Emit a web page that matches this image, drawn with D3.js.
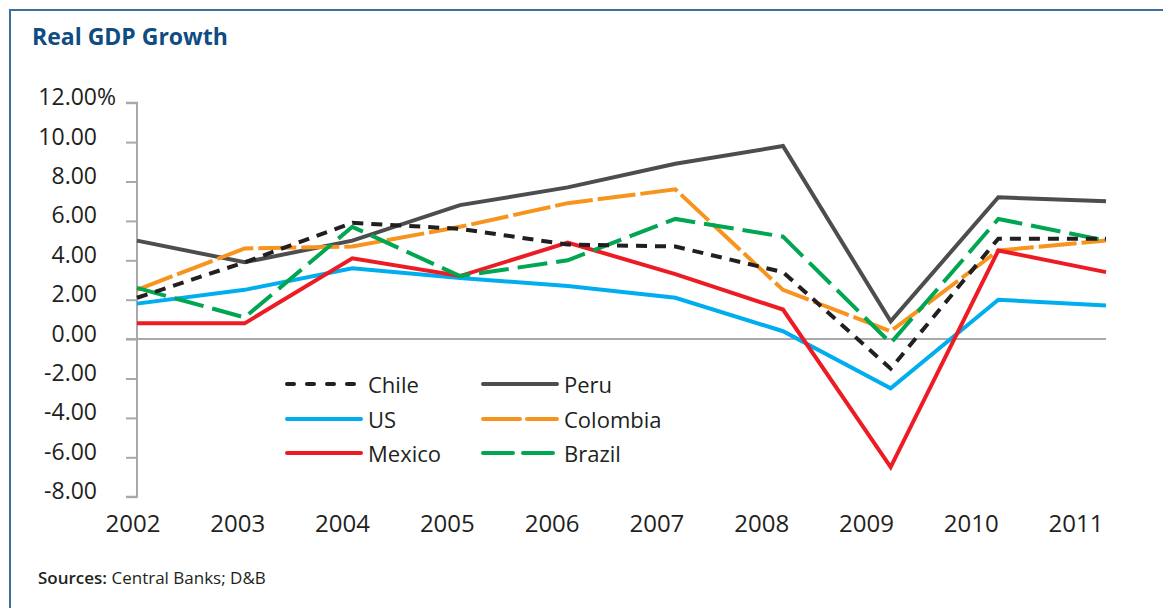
<!DOCTYPE html>
<html>
<head>
<meta charset="utf-8">
<script src="https://cdn.jsdelivr.net/npm/d3@7/dist/d3.min.js"></script>
<style>
  html, body { margin: 0; padding: 0; background: #fff; }
  svg { display: block; }
  text { font-family: "Open Sans", "Noto Sans", sans-serif; fill: #231f20; }
</style>
</head>
<body>
<svg id="chart" width="1163" height="608"></svg>
<script>
// ---------- data ----------
const years = [2002, 2003, 2004, 2005, 2006, 2007, 2008, 2009, 2010, 2011];
const yTicks = [-8, -6, -4, -2, 0, 2, 4, 6, 8, 10, 12];

const chile    = [2.1, 3.9, 5.9, 5.6, 4.8, 4.7, 3.4, -1.5, 5.1, 5.1];
const peru     = [5.0, 3.9, 5.0, 6.8, 7.7, 8.9, 9.8, 0.9, 7.2, 7.0];
const us       = [1.8, 2.5, 3.6, 3.1, 2.7, 2.1, 0.4, -2.5, 2.0, 1.7];
const colombia = [2.5, 4.6, 4.7, 5.7, 6.9, 7.6, 2.5, 0.4, 4.5, 5.0];
const mexico   = [0.8, 0.8, 4.1, 3.2, 4.9, 3.3, 1.5, -6.5, 4.5, 3.4];
const brazil   = [2.6, 1.1, 5.7, 3.2, 4.0, 6.1, 5.2, -0.2, 6.1, 5.0];

const seriesNames = ["Chile", "Peru", "US", "Colombia", "Mexico", "Brazil"];
// ---------- styles ----------
const styles = {
  Chile:    { color: "#231f20", dash: "11,8" },
  Peru:     { color: "#4d4d4f", dash: null },
  US:       { color: "#00aeef", dash: null },
  Colombia: { color: "#f7941d", dash: "38,5" },
  Mexico:   { color: "#ed1c24", dash: null },
  Brazil:   { color: "#00a651", dash: "30,9" }
};
const values = { Chile: chile, Peru: peru, US: us, Colombia: colombia, Mexico: mexico, Brazil: brazil };
const drawOrder = ["Peru", "US", "Colombia", "Mexico", "Brazil", "Chile"];

const svg = d3.select("#chart");

// frame
svg.append("path")
  .attr("d", "M10,608 L10,10 L1163,10")
  .attr("fill", "none").attr("stroke", "#3d6f9e").attr("stroke-width", 2);

// title
svg.append("text")
  .attr("x", 32).attr("y", 45)
  .style("font-size", "23px").style("font-weight", "700")
  .style("fill", "#0f4c81")
  .text("Real GDP Growth");

// scales
const x = d3.scalePoint().domain(years).range([137, 1106]);
const xLab = d3.scalePoint().domain(years).range([133, 1076]);
const y = d3.scaleLinear().domain([-8, 12]).range([496.7, 102.7]);

const axisColor = "#a7a9ac";

// y axis
const fmt = d => d3.format(".2f")(d).replace("\u2212", "-");
const yAxis = d3.axisLeft(y).tickValues(yTicks).tickSize(11).tickFormat(fmt);
const gy = svg.append("g").attr("transform", "translate(137,0)").call(yAxis);
gy.select(".domain").attr("stroke", axisColor).attr("stroke-width", 2)
  .attr("d", `M-11,${y(12)}H0V${y(-8)}H-11`);
gy.selectAll(".tick line").attr("stroke", axisColor).attr("stroke-width", 2);
gy.selectAll(".tick text")
  .attr("x", -40).attr("dy", null).attr("y", 2)
  .attr("text-anchor", "end")
  .style("font-family", "'Open Sans', sans-serif")
  .style("font-size", "23px").style("fill", "#231f20");
gy.selectAll(".tick").filter(d => d === 12).append("text")
  .attr("x", -40).attr("y", 2).attr("text-anchor", "start")
  .style("font-size", "23px").style("fill", "#231f20")
  .text("%");

// zero line
svg.append("line")
  .attr("x1", 126).attr("x2", x(2011))
  .attr("y1", y(0)).attr("y2", y(0))
  .attr("stroke", axisColor).attr("stroke-width", 2);

// x labels
svg.append("g").selectAll("text").data(years).join("text")
  .attr("x", d => xLab(d)).attr("y", 532)
  .attr("text-anchor", "middle")
  .style("font-size", "24px")
  .text(d => d);

// lines
const line = d3.line().x((d, i) => x(years[i])).y(d => y(d));
drawOrder.forEach(name => {
  const s = styles[name];
  svg.append("path")
    .datum(values[name])
    .attr("d", line)
    .attr("fill", "none")
    .attr("stroke", s.color)
    .attr("stroke-width", 4)
    .attr("stroke-linejoin", "miter")
    .attr("stroke-dasharray", s.dash);
});

// legend
const legendItems = [
  { name: "Chile", col: 0, row: 0 }, { name: "Peru", col: 1, row: 0 },
  { name: "US", col: 0, row: 1 }, { name: "Colombia", col: 1, row: 1 },
  { name: "Mexico", col: 0, row: 2 }, { name: "Brazil", col: 1, row: 2 }
];
const colX = [287, 483];
const rowY = [384, 419, 453];
const lg = svg.append("g");
legendItems.forEach(it => {
  const s = styles[it.name];
  const lx = colX[it.col], ly = rowY[it.row];
  lg.append("line")
    .attr("x1", lx).attr("x2", lx + 74).attr("y1", ly).attr("y2", ly)
    .attr("stroke", s.color).attr("stroke-width", 4)
    .attr("stroke-linecap", "round")
    .attr("stroke-dasharray", it.name === "Chile" ? "7,13" : it.name === "Colombia" ? "37,7" : it.name === "Brazil" ? "30,10" : null);
  lg.append("text")
    .attr("x", lx + 81).attr("y", ly + 9)
    .style("font-size", "22px")
    .text(it.name);
});

// source
const src = svg.append("text").attr("x", 38).attr("y", 584).style("font-size", "17px");
src.append("tspan").style("font-weight", "600").text("Sources:");
src.append("tspan").text(" Central Banks; D&B");
</script>
</body>
</html>
